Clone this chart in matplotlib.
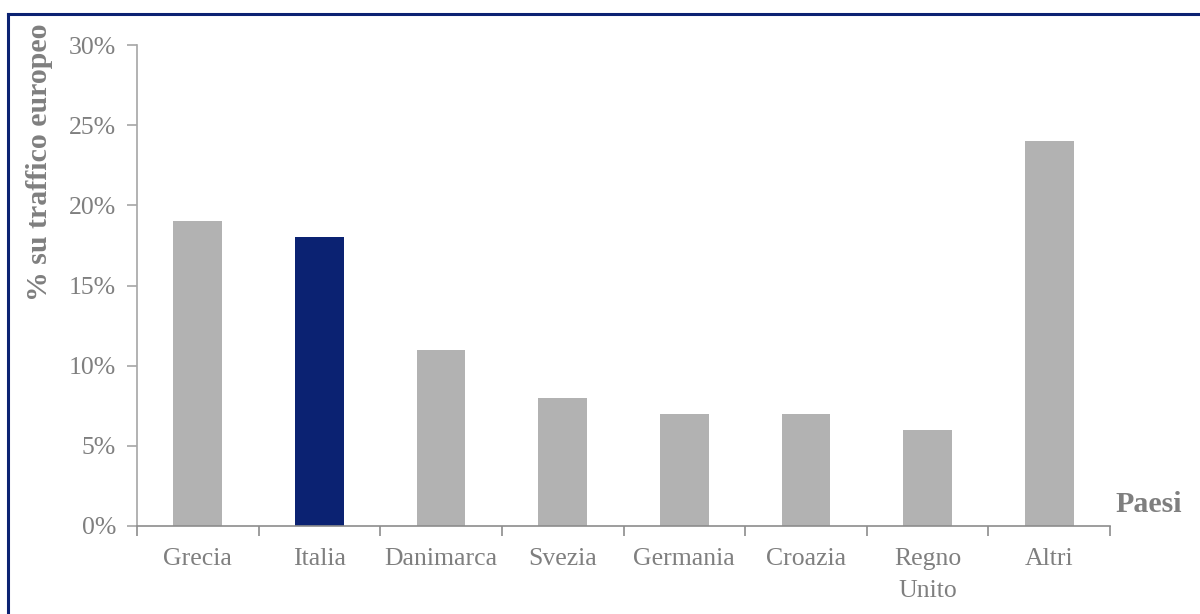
import matplotlib
matplotlib.use("Agg")
import matplotlib.pyplot as plt
from matplotlib.lines import Line2D
import numpy as np

categories = ["Grecia", "Italia", "Danimarca", "Svezia", "Germania", "Croazia", "Regno\nUnito", "Altri"]
values = [19, 18, 11, 8, 7, 7, 6, 24]
colors = ["#b2b2b2", "#0b2272", "#b2b2b2", "#b2b2b2", "#b2b2b2", "#b2b2b2", "#b2b2b2", "#b2b2b2"]
yticks = [0, 5, 10, 15, 20, 25, 30]
ytick_labels = ["0%", "5%", "10%", "15%", "20%", "25%", "30%"]

plt.rcParams['font.family'] = ['Liberation Serif', 'DejaVu Serif']
fig = plt.figure(figsize=(12, 6.14), dpi=100)
ax = fig.add_axes([137/1200, 1-526/614, (1110-137)/1200, (526-45)/614])

x = np.arange(len(categories))
ax.bar(x, values, width=0.4, color=colors, zorder=2)
ax.set_xlim(-0.5, len(categories)-0.5)
ax.set_ylim(0, 30)
ax.set_yticks(yticks)
ax.set_yticklabels(ytick_labels, fontsize=18.5, color="#7f7f7f")
ax.set_xticks(x)
ax.set_xticklabels(categories, fontsize=18.5, color="#7f7f7f", linespacing=1.6)
ax.set_xticks(np.arange(-0.5, len(categories), 1.0), minor=True)
ax.tick_params(axis='x', which='major', length=0, pad=16)
ax.tick_params(axis='x', which='minor', length=7, color="#8c8c8c", width=1.2)
ax.tick_params(axis='y', length=7, color="#a6a6a6", width=1.2, pad=8)
for s in ["top", "right"]:
    ax.spines[s].set_visible(False)
ax.spines["left"].set_color("#a6a6a6")
ax.spines["bottom"].set_color("#8c8c8c")
ax.spines["left"].set_linewidth(1.2)
ax.spines["bottom"].set_linewidth(1.2)

fig.text(40/1200, 1-162/614, "% su traffico europeo", rotation=90, fontsize=21.5,
         fontweight="bold", color="#7f7f7f", ha="center", va="center")
fig.text(1149/1200, 1-505/614, "Paesi", fontsize=21.5, fontweight="bold",
         color="#7f7f7f", ha="center", va="center")

fig.add_artist(Line2D([8/1200, 1.0], [1-14/614, 1-14/614], transform=fig.transFigure,
                      color="#0b2272", linewidth=2.2))
fig.add_artist(Line2D([8/1200, 8/1200], [0, 1-14/614], transform=fig.transFigure,
                      color="#0b2272", linewidth=2.2))

fig.savefig("out.png", dpi=100)
